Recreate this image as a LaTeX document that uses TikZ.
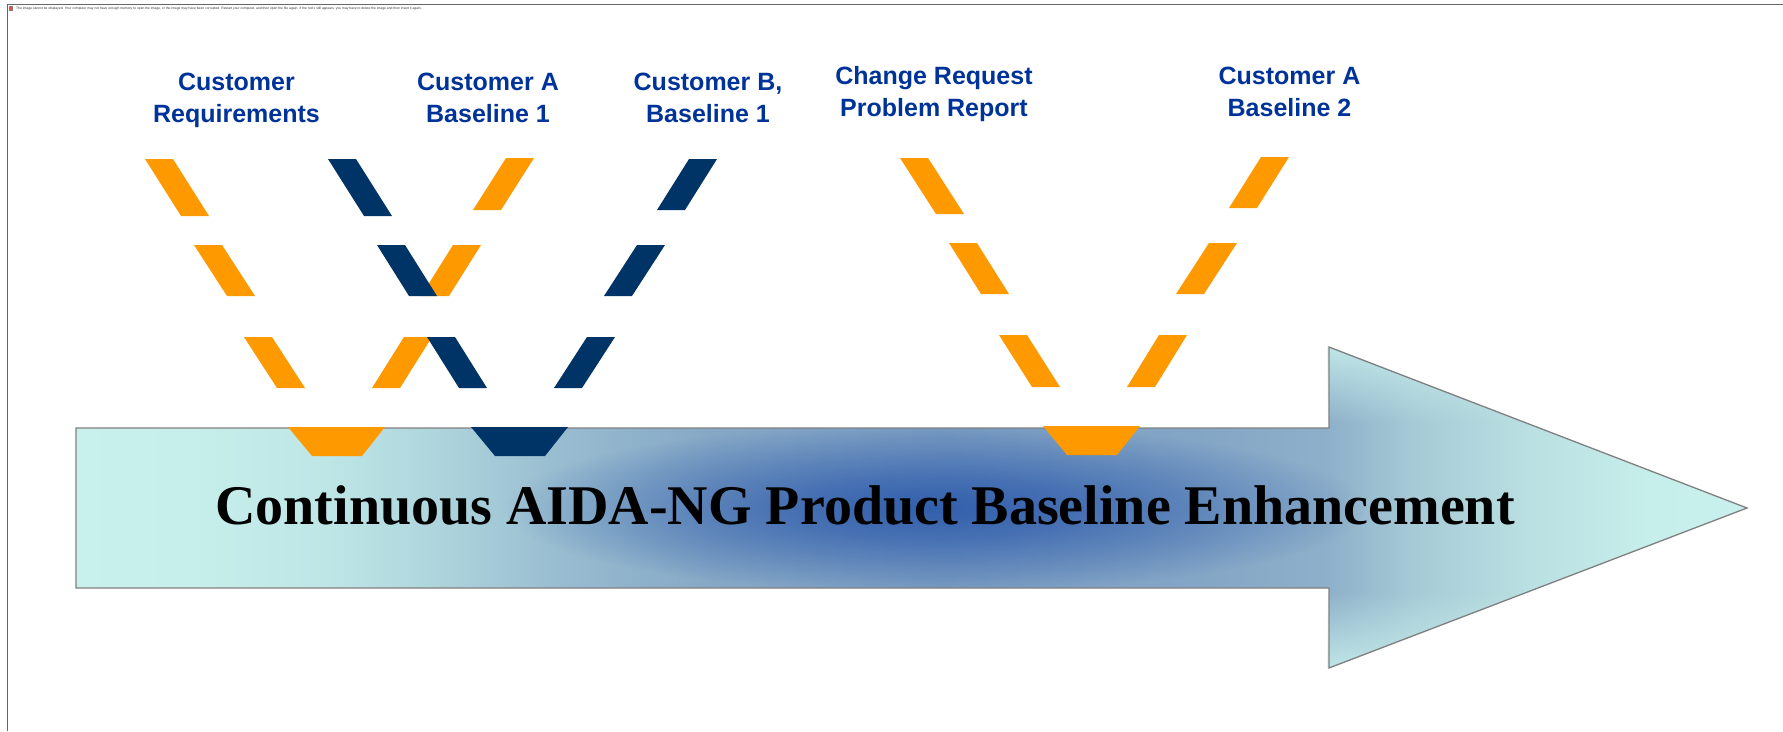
\documentclass[tikz,border=0pt]{standalone}
\usepackage{fontspec}
\setmainfont{Liberation Serif}
\setsansfont{Liberation Sans}
\usetikzlibrary{fadings}

% cyan to grey blue and back, along the arrow (25bp to 75bp is the fitted part)
\pgfdeclarehorizontalshading{arrowshade}{100bp}{rgb(0bp)=(0.784,0.941,0.925); rgb(25bp)=(0.784,0.941,0.925); rgb(28.5bp)=(0.776,0.933,0.918); rgb(32.5bp)=(0.745,0.902,0.902); rgb(36bp)=(0.678,0.831,0.863); rgb(39.5bp)=(0.596,0.737,0.816); rgb(44bp)=(0.525,0.659,0.776); rgb(51bp)=(0.486,0.620,0.761); rgb(58.5bp)=(0.518,0.651,0.776); rgb(62.5bp)=(0.557,0.690,0.792); rgb(65bp)=(0.651,0.792,0.839); rgb(68.5bp)=(0.729,0.878,0.886); rgb(72bp)=(0.776,0.933,0.918); rgb(75bp)=(0.784,0.941,0.925); rgb(100bp)=(0.784,0.941,0.925)}
% lighter head above and below the shaft
\pgfdeclareverticalshading{capshade}{100bp}{color(0bp)=(white!85!black); color(25bp)=(white!85!black); color(37bp)=(black); color(63bp)=(black); color(75bp)=(white!85!black); color(100bp)=(white!85!black)}
\pgfdeclarefading{capfade}{\pgfuseshading{capshade}}
% blue glow in the middle of the shaft
\pgfdeclareradialshading{glowshade}{\pgfpointorigin}{color(0bp)=(white); color(9bp)=(white!72!black); color(25bp)=(black); color(50bp)=(black)}
\pgfdeclarefading{glowfade}{\pgfuseshading{glowshade}}

\begin{document}
\begin{tikzpicture}[x=1pt, y=-1pt,
	toptext/.style={anchor=base, align=center, inner sep=0pt, text=textblue,
		font=\sffamily\bfseries\fontsize{25}{32}\selectfont}]
	\definecolor{orangebar}{RGB}{255, 153, 0}
	\definecolor{navybar}{RGB}{0, 51, 102}
	\definecolor{textblue}{RGB}{0, 51, 153}
	\definecolor{edgegray}{RGB}{128, 128, 128}
	\definecolor{glowblue}{RGB}{50, 95, 173}
	\definecolor{lightcyan}{RGB}{200, 240, 236}

	\useasboundingbox (0, 0) rectangle (1783, 731);

	% \stripe#color#x top#y top#x bottom#y bottom
	\def\stripe#1#2#3#4#5{
		\fill[#1] (#2, #3) -- (#2 + 28, #3) -- (#4 + 28, #5) -- (#4, #5) -- cycle;
	}

	% \notch#color#x#y
	\def\notch#1#2#3{
		\fill[#1] (#2, #3) -- (#2 + 97, #3) -- (#2 + 74, #3 + 29) -- (#2 + 24, #3 + 29) -- cycle;
	}

	\def\arrowpath{(76, 428) -- (1329, 428) -- (1329, 347) -- (1747, 508)
		-- (1329, 668) -- (1329, 588) -- (76, 588) -- cycle}

	% broken picture frame
	\draw[edgegray!80!black, line width=1.2] (7.5, 731) -- (7.5, 4.5) -- (1783, 4.5);
	\draw[edgegray, line width=0.4, fill=red!75] (9.5, 6) rectangle (12.5, 10.5);
	\node[anchor=west, inner sep=0pt, text=black!80, font=\sffamily\fontsize{3.34}{4}\selectfont] (errmsg) at (16, 8.5)
		{The image cannot be displayed. Your computer may not have enough memory to open the image, or the image may have been corrupted. Restart your computer, and then open the file again. If the red x still appears, you may have to delete the image and then insert it again.};

	% arrow
	\path[shading=arrowshade] \arrowpath;
	\fill[lightcyan, path fading=capfade] \arrowpath;
	\begin{scope}
		\clip \arrowpath;
		\fill[glowblue, path fading=glowfade] (935, 508) ellipse [x radius=430, y radius=85];
	\end{scope}
	\draw[edgegray, line width=1.3, line join=miter] \arrowpath;

	\notch{orangebar}{288}{427}
	\notch{navybar}{471}{427}
	\notch{orangebar}{1043}{426}

	\node[anchor=base, inner sep=0pt, font=\rmfamily\bfseries\fontsize{56}{60}\selectfont] (banner) at (865, 524)
		{Continuous AIDA-NG Product Baseline Enhancement};

	% customer requirements
	\stripe{orangebar}{145}{159}{181}{216}
	\stripe{orangebar}{194}{245}{227}{296}
	\stripe{orangebar}{244}{337}{277}{388}
	% customer A, baseline 1
	\stripe{orangebar}{404}{337}{372}{388}
	\stripe{orangebar}{453}{245}{421}{296}
	\stripe{orangebar}{506}{158}{473}{210}
	% second path
	\stripe{navybar}{328}{159}{364}{216}
	\stripe{navybar}{377}{245}{409}{296}
	\stripe{navybar}{427}{337}{459}{388}
	% customer B, baseline 1
	\stripe{navybar}{587}{337}{554}{388}
	\stripe{navybar}{637}{245}{604}{296}
	\stripe{navybar}{689}{159}{657}{210}
	% change request
	\stripe{orangebar}{900}{158}{936}{214}
	\stripe{orangebar}{949}{243}{981}{294}
	\stripe{orangebar}{999}{335}{1032}{387}
	% customer A, baseline 2
	\stripe{orangebar}{1159}{335}{1127}{387}
	\stripe{orangebar}{1209}{243}{1176}{294}
	\stripe{orangebar}{1261}{157}{1229}{208}

	% labels (base is the second line)
	\node[toptext] (custreq) at (236.5, 122) {Customer\\Requirements};
	\node[toptext] (custaone) at (488, 122) {Customer A\\Baseline 1};
	\node[toptext] (custbone) at (708, 122) {Customer B,\\Baseline 1};
	\node[toptext] (chgreq) at (934, 116) {Change Request\\Problem Report};
	\node[toptext] (custatwo) at (1289.5, 116) {Customer A\\Baseline 2};
\end{tikzpicture}
\end{document}
